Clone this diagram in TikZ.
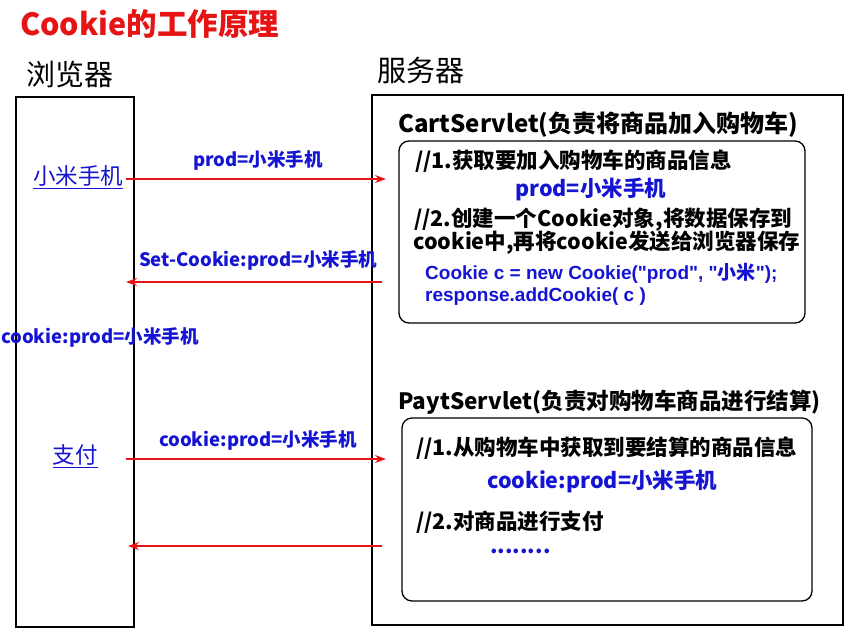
\documentclass[tikz,border=0pt]{standalone}
\usepackage{fontspec}
\setmainfont{Noto Sans CJK SC}
\newfontfamily\lat{Liberation Sans}
\usetikzlibrary{arrows.meta}
\definecolor{rd}{RGB}{230,20,20}
\definecolor{bl}{RGB}{20,20,210}
\begin{document}
\begin{tikzpicture}[x=1pt,y=-1pt,
  t/.style={anchor=west,inner sep=0pt,font=\fontsize{21.5}{23}\selectfont\bfseries},
  bt/.style={t,text=bl},
  lbl/.style={inner sep=0pt,text=bl,font=\fontsize{18.5}{20}\selectfont\bfseries},
  msg/.style={rd,line width=1.6pt,-{Stealth[length=11pt,width=8pt]}},
  frame/.style={draw,line width=1.6pt},
  rbox/.style={draw,line width=1.3pt,rounded corners=10pt}]
\useasboundingbox (0,0) rectangle (853,637);
\node[t,text=rd,font=\fontsize{30.5}{32}\selectfont\bfseries] (title) at (20,24) {Cookie的工作原理};
\node[inner sep=0pt,font=\fontsize{29}{31}\selectfont] (br) at (70,74) {浏览器};
\node[inner sep=0pt,font=\fontsize{29}{31}\selectfont] (sv) at (421,70) {服务器};
\draw[frame] (16,97) rectangle (134,627);
\draw[frame] (372,95) rectangle (843,625);
\node[t,font=\fontsize{24}{26}\selectfont\bfseries] (cs) at (398,125) {CartServlet(负责将商品加入购物车)};
\draw[rbox] (399,141) rectangle (805,323);
\node[t] (c1) at (415,161) {//1.获取要加入购物车的商品信息};
\node[bt] (c2) at (515,189) {prod=小米手机};
\node[t] (c3) at (414,220) {//2.创建一个Cookie对象,将数据保存到};
\node[t] (c4) at (413,243) {cookie中,再将cookie发送给浏览器保存};
\node[bt,font=\fontsize{19}{21}\selectfont\bfseries] (c5) at (425,273) {{\lat Cookie c = new Cookie("prod", "}小米{\lat ");}};
\node[bt,font=\fontsize{19}{21}\selectfont\bfseries] (c6) at (425,297) {{\lat response.addCookie( c )}};
\node[t,font=\fontsize{22.5}{24}\selectfont\bfseries] (ps) at (398,402) {PaytServlet(负责对购物车商品进行结算)};
\draw[rbox] (402,418) rectangle (812,601);
\node[t] (p1) at (416,448) {//1.从购物车中获取到要结算的商品信息};
\node[bt] (p2) at (487,481) {cookie:prod=小米手机};
\node[t] (p3) at (416,522) {//2.对商品进行支付};
\node[bt] (p4) at (490,551) {........};
\node[inner sep=1pt,text=bl,font=\fontsize{22.5}{24}\selectfont] (xm) at (78,177) {\underline{小米手机}};
\node[inner sep=1pt,text=bl,font=\fontsize{22.5}{24}\selectfont] (zf) at (75,456) {\underline{支付}};
\node[lbl] (ck) at (100,337) {cookie:prod=小米手机};
\coordinate (a1) at (126,179); \coordinate (b1) at (386,179);
\coordinate (a2) at (382,282); \coordinate (b2) at (126,282);
\coordinate (a3) at (126,459); \coordinate (b3) at (386,459);
\coordinate (a4) at (382,546); \coordinate (b4) at (128,546);
\draw[msg] (a1) -- (b1);
\draw[msg] (a2) -- (b2);
\draw[msg] (a3) -- (b3);
\draw[msg] (a4) -- (b4);
\node[lbl] (l1) at (258,160) {prod=小米手机};
\node[lbl] (l2) at (258,260) {Set-Cookie:prod=小米手机};
\node[lbl] (l3) at (258,440) {cookie:prod=小米手机};
\end{tikzpicture}
\end{document}
